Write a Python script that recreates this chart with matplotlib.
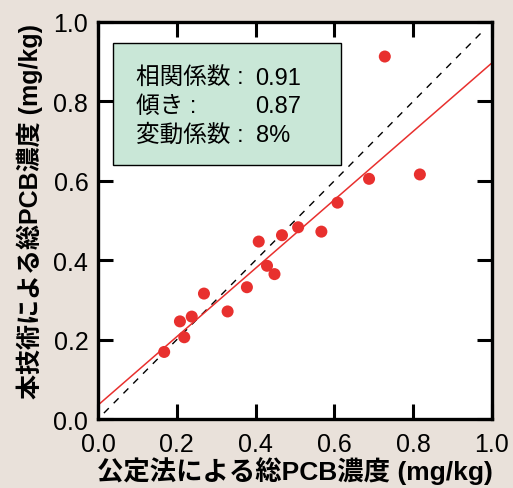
import matplotlib.pyplot as plt
import numpy as np

# data (mg/kg)
official = [0.168, 0.208, 0.219, 0.238, 0.269, 0.329, 0.378, 0.408, 0.429,
            0.448, 0.467, 0.508, 0.567, 0.608, 0.688, 0.728, 0.817]
this_method = [0.169, 0.246, 0.206, 0.258, 0.316, 0.271, 0.332, 0.447, 0.386,
               0.365, 0.463, 0.483, 0.472, 0.545, 0.605, 0.913, 0.616]

fit_slope = 0.862
fit_intercept = 0.035
ticks = [0.0, 0.2, 0.4, 0.6, 0.8, 1.0]
tick_labels = ["0.0", "0.2", "0.4", "0.6", "0.8", "1.0"]
stat_labels = ["相関係数 :", "傾き :", "変動係数 :"]
stat_values = ["0.91", "0.87", "8%"]

plt.rcParams['font.family'] = ['Liberation Sans', 'Noto Sans CJK JP']
bg = '#e9e1da'

fig = plt.figure(figsize=(5.13, 4.89), dpi=100, facecolor=bg)
ax = fig.add_axes([0.191, 0.141, 0.768, 0.812])

# 1:1 line and regression line
ax.plot([0.015, 0.98], [0.015, 0.98], color='black', linestyle=(0, (5, 5)), linewidth=1.0)
xs = np.array([0.0, 1.0])
ax.plot(xs, fit_intercept + fit_slope * xs, color='#e8302e', linewidth=1.1)
ax.scatter(official, this_method, s=75, color='#e8302e', edgecolors='none', zorder=3)

ax.set_xlim(0, 1)
ax.set_ylim(0, 1)
ax.set_xticks(ticks)
ax.set_yticks(ticks)
ax.set_xticklabels(tick_labels, fontsize=18)
ax.set_yticklabels(tick_labels, fontsize=18)
ax.tick_params(direction='in', length=11, width=2.2, top=True, right=True, pad=7)
ax.tick_params(axis='x', pad=9)
for sp in ax.spines.values():
    sp.set_linewidth(2.4)

ax.set_xlabel("公定法による総PCB濃度 (mg/kg)", fontsize=19, fontweight='bold')
ax.set_ylabel("本技術による総PCB濃度 (mg/kg)", fontsize=18, fontweight='bold')
ax.xaxis.set_label_coords(0.5, -0.094)
ax.yaxis.set_label_coords(-0.14, 0.526)

# statistics box
box = plt.Rectangle((0.037, 0.64), 0.58, 0.307, transform=ax.transAxes,
                    facecolor='#c9e7d7', edgecolor='black', linewidth=1.0, zorder=4)
ax.add_patch(box)
for i, (lab, val) in enumerate(zip(stat_labels, stat_values)):
    y = 0.86 - i * 0.072
    ax.text(0.097, y, lab, transform=ax.transAxes, fontsize=17,
            va='center', ha='left', zorder=5)
    ax.text(0.40, y, val, transform=ax.transAxes, fontsize=17,
            va='center', ha='left', zorder=5)

fig.savefig("out.png", dpi=100, facecolor=bg)
